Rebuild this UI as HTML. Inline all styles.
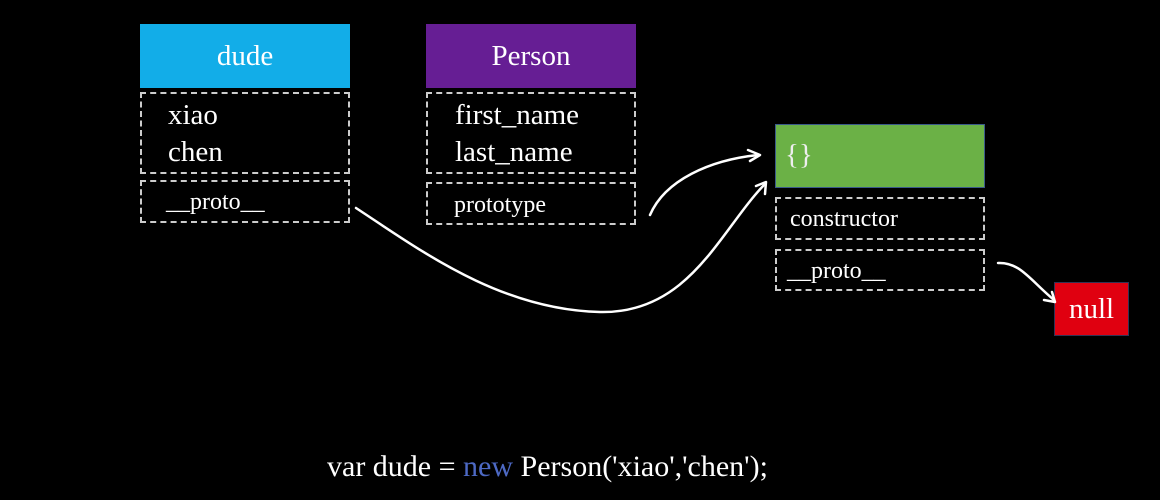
<!DOCTYPE html>
<html><head><style>
body{margin:0;width:1160px;height:500px;background:#000;overflow:hidden;position:relative;font-family:"Liberation Serif",serif;color:#fff}
.b{position:absolute;box-sizing:border-box}
.h{display:flex;align-items:center;justify-content:center;font-size:29px}
.d{border:2px dashed #ccc}
.t{position:absolute;font-size:29px;line-height:37px}
.s{font-size:24px}
</style></head><body>
<div class="b h" style="left:140px;top:24px;width:210px;height:64px;background:#12ade8">dude</div>
<div class="b d" style="left:140px;top:92px;width:210px;height:82px"></div>
<div class="t" style="left:168px;top:97px">xiao<br>chen</div>
<div class="b d" style="left:140px;top:180px;width:210px;height:43px"></div>
<div class="t s" style="left:166px;top:184px">__proto__</div>

<div class="b h" style="left:426px;top:24px;width:210px;height:64px;background:#661e94">Person</div>
<div class="b d" style="left:426px;top:92px;width:210px;height:82px"></div>
<div class="t" style="left:455px;top:97px">first_name<br>last_name</div>
<div class="b d" style="left:426px;top:182px;width:210px;height:43px"></div>
<div class="t s" style="left:454px;top:187px">prototype</div>

<div class="b" style="left:775px;top:124px;width:210px;height:64px;background:#6bb146;border:1px solid #3a5a8a"></div>
<div class="t" style="left:785px;top:137px;color:#eee">{}</div>
<div class="b d" style="left:775px;top:197px;width:210px;height:43px"></div>
<div class="t s" style="left:790px;top:201px">constructor</div>
<div class="b d" style="left:775px;top:249px;width:210px;height:42px"></div>
<div class="t s" style="left:787px;top:253px">__proto__</div>

<div class="b h" style="left:1054px;top:282px;width:75px;height:54px;background:#e00010;border:1px solid #335">null</div>

<svg width="1160" height="500" style="position:absolute;left:0;top:0" fill="none" stroke="#fff" stroke-width="2.5" stroke-linecap="round">
<path d="M356,208 C420,250 500,310 600,312 C690,314 720,230 765,184"/>
<path d="M756,186 L766,182 L765,194" stroke-linejoin="round"/>
<path d="M650,215 C665,180 710,160 758,155"/>
<path d="M748,150 L760,155 L750,161" stroke-linejoin="round"/>
<path d="M998,263 C1020,262 1030,280 1054,300"/>
<path d="M1044,300 L1055,302 L1052,292" stroke-linejoin="round"/>
</svg>

<div class="t" style="left:327px;top:448px;font-size:30px">var dude = <span style="color:#4d69c4">new</span> Person('xiao','chen');</div>
</body></html>
